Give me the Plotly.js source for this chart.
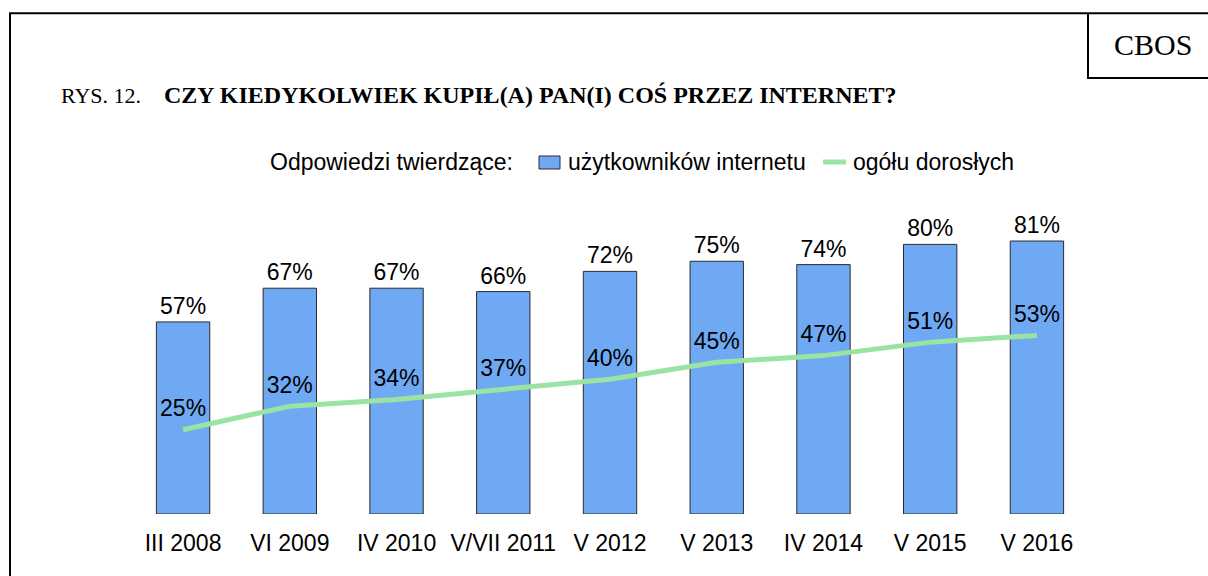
<!DOCTYPE html>
<html>
<head>
<meta charset="utf-8">
<script src="https://cdn.plot.ly/plotly-3.0.1.min.js"></script>
<style>
html,body{margin:0;padding:0;background:#fff;}
#chart{width:1208px;height:576px;}
</style>
</head>
<body>
<div id="chart"></div>
<script>
var categories = ["III 2008","VI 2009","IV 2010","V/VII 2011","V 2012","V 2013","IV 2014","V 2015","V 2016"];
var internetUsers = [57,67,67,66,72,75,74,80,81];
var allAdults = [25,32,34,37,40,45,47,51,53];
var seriesNames = ["użytkowników internetu","ogółu dorosłych"];
var legendTitle = "Odpowiedzi twierdzące:";
var titlePrefix = "RYS. 12.";
var titleText = "CZY KIEDYKOLWIEK KUPIŁ(A) PAN(I) COŚ PRZEZ INTERNET?";
var sourceLabel = "CBOS";

var barColor = "#70A9F3";
var lineColor = "#9BE3A2";

// geometry helpers (pixel -> paper)
var L = 128, R = 116, T = 177, B = 62, W = 1208, H = 576;
var pw = W - L - R, ph = H - T - B;
function px(x){ return (x - L) / pw; }
function py(y){ return (H - B - y) / ph; }

var sans = "Liberation Sans, Arial, sans-serif";
var serif = "Liberation Serif, Times New Roman, serif";
var fs = 23;

var traces = [
  {
    type: "bar",
    name: seriesNames[0],
    x: categories,
    y: internetUsers,
    marker: {color: barColor, line: {color: "#2b2b2b", width: 1}},
    texttemplate: "%{y}%",
    textposition: "outside",
    textfont: {family: sans, size: fs, color: "#000"},
    cliponaxis: false,
    hoverinfo: "skip",
    showlegend: false
  },
  {
    type: "scatter",
    mode: "lines+markers+text",
    name: seriesNames[1],
    x: categories,
    y: allAdults,
    line: {color: lineColor, width: 5},
    marker: {size: 11, color: "rgba(0,0,0,0)"},
    texttemplate: "%{y}%",
    textposition: "top center",
    textfont: {family: sans, size: fs, color: "#000"},
    cliponaxis: false,
    hoverinfo: "skip",
    showlegend: false
  }
];

var legY = 162;
var layout = {
  width: W, height: H,
  margin: {l: L, r: R, t: T, b: B, pad: 0},
  paper_bgcolor: "#fff",
  plot_bgcolor: "#fff",
  bargap: 0.5,
  showlegend: false,
  xaxis: {
    type: "category",
    showgrid: false, zeroline: false, showline: false,
    ticks: "",
    ticklabelstandoff: 13,
    tickfont: {family: sans, size: fs, color: "#000"},
    fixedrange: true
  },
  yaxis: {
    range: [0, 100],
    visible: false,
    showgrid: false, zeroline: false,
    fixedrange: true
  },
  annotations: [
    {
      xref: "paper", yref: "paper",
      x: px(59), y: py(95), xanchor: "left", yanchor: "middle",
      text: titlePrefix, showarrow: false,
      font: {family: serif, size: 22, color: "#000"}
    },
    {
      xref: "paper", yref: "paper",
      x: px(162), y: py(95), xanchor: "left", yanchor: "middle",
      text: "<b>" + titleText + "</b>", showarrow: false,
      font: {family: serif, size: 24, color: "#000"}
    },
    {
      xref: "paper", yref: "paper",
      x: px(1153), y: py(44), xanchor: "center", yanchor: "middle",
      text: sourceLabel, showarrow: false,
      font: {family: serif, size: 30, color: "#000"}
    },
    {
      xref: "paper", yref: "paper",
      x: px(268), y: py(legY), xanchor: "left", yanchor: "middle",
      text: legendTitle, showarrow: false,
      font: {family: sans, size: fs, color: "#000"}
    },
    {
      xref: "paper", yref: "paper",
      x: px(566), y: py(legY), xanchor: "left", yanchor: "middle",
      text: seriesNames[0], showarrow: false,
      font: {family: sans, size: fs, color: "#000"}
    },
    {
      xref: "paper", yref: "paper",
      x: px(851), y: py(legY), xanchor: "left", yanchor: "middle",
      text: seriesNames[1], showarrow: false,
      font: {family: sans, size: fs, color: "#000"}
    }
  ],
  shapes: [
    {
      type: "rect", xref: "paper", yref: "paper",
      x0: px(10), x1: px(1220), y0: py(13.3), y1: py(600),
      line: {color: "#000", width: 2}, fillcolor: "rgba(0,0,0,0)"
    },
    {
      type: "path", xref: "paper", yref: "paper",
      path: "M " + px(1088) + " " + py(13.3) + " L " + px(1088) + " " + py(78) + " L " + px(1220) + " " + py(78),
      line: {color: "#000", width: 2}
    },
    {
      type: "rect", xref: "paper", yref: "paper",
      x0: px(539), x1: px(560), y0: py(156), y1: py(169),
      fillcolor: barColor, line: {color: "#2b2b2b", width: 1}
    },
    {
      type: "line", xref: "paper", yref: "paper",
      x0: px(823), x1: px(846), y0: py(legY), y1: py(legY),
      line: {color: lineColor, width: 5}
    }
  ]
};

Plotly.newPlot("chart", traces, layout, {displayModeBar: false, staticPlot: true});
</script>
</body>
</html>
